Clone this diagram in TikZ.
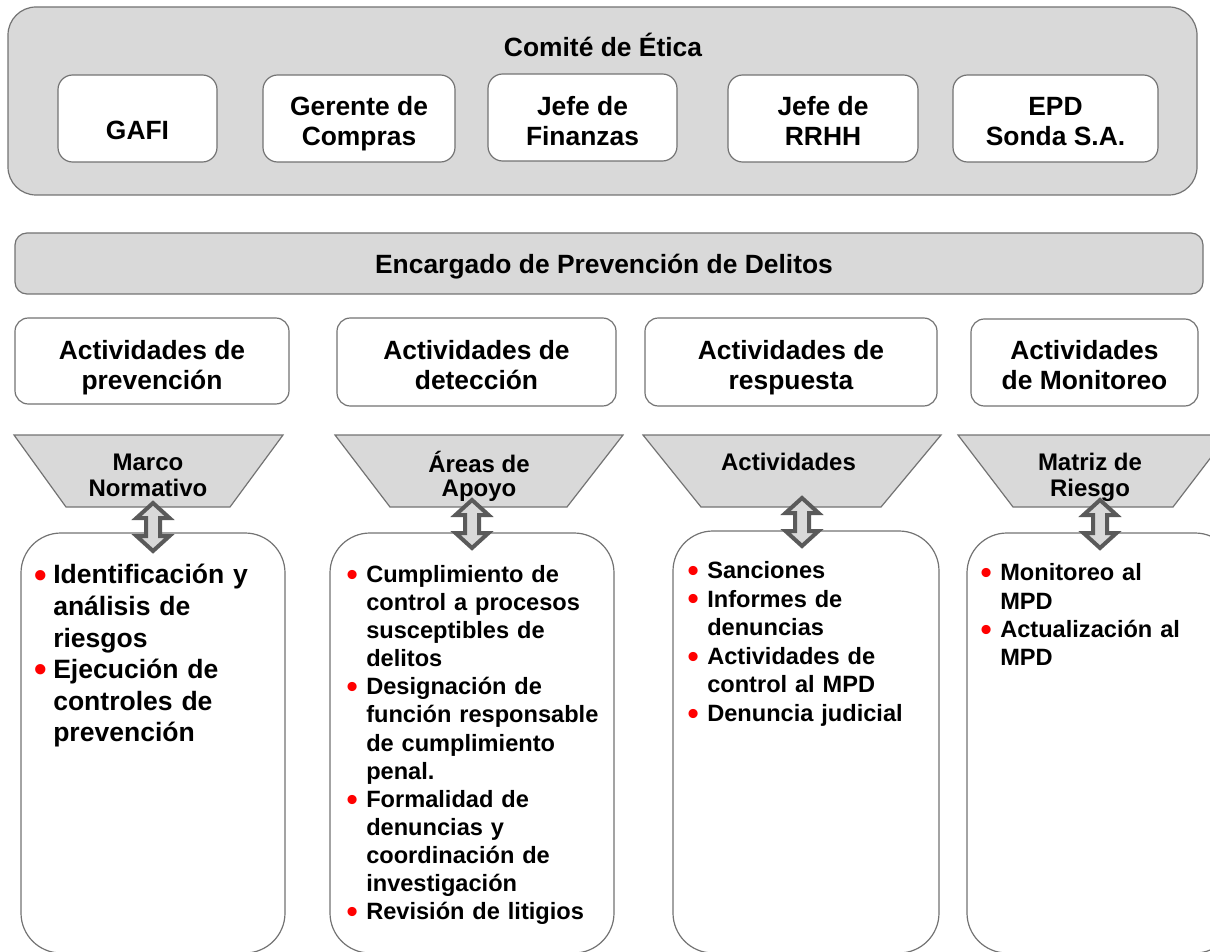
\documentclass[tikz,border=0pt]{standalone}
\usepackage{fontspec}
\usepackage{graphicx}
\setmainfont{Liberation Sans}
\definecolor{boxgray}{HTML}{D9D9D9}
\definecolor{linegray}{HTML}{737373}
\definecolor{arrowgray}{HTML}{5A5A5A}
\definecolor{bulletred}{HTML}{FF0000}
\newcommand{\bulA}{\leavevmode\llap{\textcolor{bulletred}{\raisebox{-0.12em}{\scalebox{1.35}{•}}}\hspace{5pt}}}
\newcommand{\bulB}{\leavevmode\llap{\textcolor{bulletred}{\raisebox{-0.12em}{\scalebox{1.35}{•}}}\hspace{6.3pt}}}
\newcommand{\dblarrow}[1]{\draw[blockarrow] (#1) ++(0,-24) -- ++(16.5,15) -- ++(-9.5,0) -- ++(0,18) -- ++(9.5,0) -- ++(-16.5,15) -- ++(-16.5,-15) -- ++(9.5,0) -- ++(0,-18) -- ++(-9.5,0) -- cycle;}
\begin{document}
\begin{tikzpicture}[x=0.75pt,y=-0.75pt,
  graybox/.style={draw=linegray, fill=boxgray, line width=0.9pt},
  whitebox/.style={draw=linegray, fill=white, line width=0.9pt},
  titletext/.style={font=\fontsize{19.8}{22.5}\selectfont\bfseries, align=center, inner sep=0pt},
  traptext/.style={font=\fontsize{18}{18.5}\selectfont\bfseries, align=center, inner sep=0pt},
  listA/.style={font=\fontsize{19.9}{23.7}\selectfont\bfseries, align=left, text width=230pt, inner sep=0pt, anchor=north west},
  listB/.style={font=\fontsize{17.7}{21.1}\selectfont\bfseries, align=left, text width=230pt, inner sep=0pt, anchor=north west},
  listC/.style={font=\fontsize{17.7}{21.45}\selectfont\bfseries, align=left, text width=230pt, inner sep=0pt, anchor=north west},
  blockarrow/.style={draw=arrowgray, fill=boxgray, line width=3pt, line join=miter}
]
\useasboundingbox (0,0) rectangle (1210,952);
\clip (0,0) rectangle (1210,952);

% Comite de Etica
\draw[graybox, rounded corners=21pt] (8,7) rectangle (1197,195);
\node[titletext] (comite) at (603,49.3) {\strut Comité de Ética\strut};
\draw[whitebox, rounded corners=11pt] (58,75) rectangle (217,162);
\draw[whitebox, rounded corners=11pt] (263,75) rectangle (455,162);
\draw[whitebox, rounded corners=11pt] (488,74) rectangle (677,161);
\draw[whitebox, rounded corners=11pt] (728,75) rectangle (918,162);
\draw[whitebox, rounded corners=11pt] (953,75) rectangle (1158,162);
\node[titletext] (gafi) at (137.5,133.5) {\strut GAFI\strut};
\node[titletext] (gerente) at (359,124.3) {\strut Gerente de\\Compras\strut};
\node[titletext] (finanzas) at (582.5,124.3) {\strut Jefe de\\Finanzas\strut};
\node[titletext] (rrhh) at (823,124.3) {\strut Jefe de\\RRHH\strut};
\node[titletext] (epd) at (1055.5,124.3) {\strut EPD\\Sonda S.A.\strut};

% Encargado
\draw[graybox, rounded corners=9pt] (15,233) rectangle (1203,294);
\node[titletext] (encargado) at (604,267.3) {\strut Encargado de Prevención de Delitos\strut};

% Activity boxes
\draw[whitebox, rounded corners=10pt] (15,318) rectangle (289,404);
\draw[whitebox, rounded corners=10pt] (337,318) rectangle (616,406);
\draw[whitebox, rounded corners=10pt] (645,318) rectangle (937,406);
\draw[whitebox, rounded corners=10pt] (971,319) rectangle (1198,406);
\node[titletext] (act1) at (152,368.3) {\strut Actividades de\\prevención\strut};
\node[titletext] (act2) at (476.5,368.3) {\strut Actividades de\\detección\strut};
\node[titletext] (act3) at (791,368.3) {\strut Actividades de\\respuesta\strut};
\node[titletext] (act4) at (1084.5,368.3) {\strut Actividades\\de Monitoreo\strut};

% Trapezoids
\draw[graybox] (14,435) -- (283,435) -- (230,507) -- (66,507) -- cycle;
\draw[graybox] (335,435) -- (623,435) -- (567,507) -- (390,507) -- cycle;
\draw[graybox] (643,435) -- (941,435) -- (881,507) -- (701,507) -- cycle;
\draw[graybox] (958,435) -- (1228,435) -- (1173,507) -- (1013,507) -- cycle;
\node[traptext] (trap1) at (148,478.7) {\strut Marco\\Normativo\strut};
\node[traptext] (trap2) at (479,477.7) {\strut Áreas de\\Apoyo\strut};
\node[traptext] (trap3) at (788.5,465.7) {\strut Actividades\strut};
\node[traptext] (trap4) at (1090,478.2) {\strut Matriz de\\Riesgo\strut};

% Bottom boxes
\draw[whitebox, rounded corners=30pt] (21,533) rectangle (285,953);
\draw[whitebox, rounded corners=30pt] (330,533) rectangle (614,953);
\draw[whitebox, rounded corners=30pt] (673,531) rectangle (939,953);
\draw[whitebox, rounded corners=30pt] (967,533) rectangle (1235,953);

\node[listA] (list1) at (53,561.5) {\bulA\strut Identificación y\\análisis de\\riesgos\\\bulA Ejecución de\\controles de\\prevención};
\node[listB] (list2) at (366,562.3) {\bulB\strut Cumplimiento de\\control a procesos\\susceptibles de\\delitos\\\bulB Designación de\\función responsable\\de cumplimiento\\penal.\\\bulB Formalidad de\\denuncias y\\coordinación de\\investigación\\\bulB Revisión de litigios};
\node[listC] (list3) at (707,558.2) {\bulB\strut Sanciones\\\bulB Informes de\\denuncias\\\bulB Actividades de\\control al MPD\\\bulB Denuncia judicial};
\node[listB] (list4) at (1000,561) {\bulB\strut Monitoreo al\\MPD\\\bulB Actualización al\\MPD};

% Double arrows between trapezoids and boxes
\coordinate (ar1) at (153,527);
\coordinate (ar2) at (472,524);
\coordinate (ar3) at (802,522);
\coordinate (ar4) at (1100,524);
\dblarrow{ar1}
\dblarrow{ar2}
\dblarrow{ar3}
\dblarrow{ar4}
\end{tikzpicture}
\end{document}
